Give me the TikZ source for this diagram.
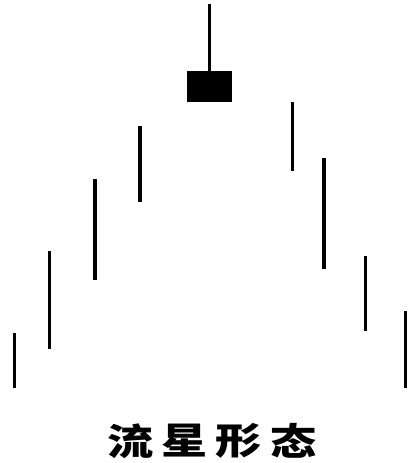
\documentclass[tikz,border=0pt]{standalone}
\usepackage{fontspec}
\newfontfamily\cjk{Noto Sans CJK SC}
\begin{document}
\begin{tikzpicture}[x=1pt,y=-1pt,
  wick/.style={line width=3.6pt,line cap=butt},
  body/.style={fill=black,draw=none},
  title/.style={font=\cjk\bfseries\fontsize{37}{37}\selectfont,inner sep=0pt,anchor=center,xscale=1.25}]
\useasboundingbox (0,0) rectangle (407,463);
% candles
\draw[wick] (14.5,333) -- (14.5,388);
\draw[wick] (49.5,251) -- (49.5,349);
\draw[wick] (95,179) -- (95,280);
\draw[wick] (140,126) -- (140,202);
\draw[wick] (209.5,4) -- (209.5,71);
\fill[body] (187,71) rectangle (232,102);
\draw[wick] (292.5,102) -- (292.5,171);
\draw[wick] (324,158) -- (324,269);
\draw[wick] (365.5,256) -- (365.5,331);
\draw[wick] (405.5,311) -- (405.5,388);
% title
\node[title] (c1) at (130.5,441) {流};
\node[title] (c2) at (185,441) {星};
\node[title] (c3) at (239,441) {形};
\node[title] (c4) at (294,441) {态};
\end{tikzpicture}
\end{document}
